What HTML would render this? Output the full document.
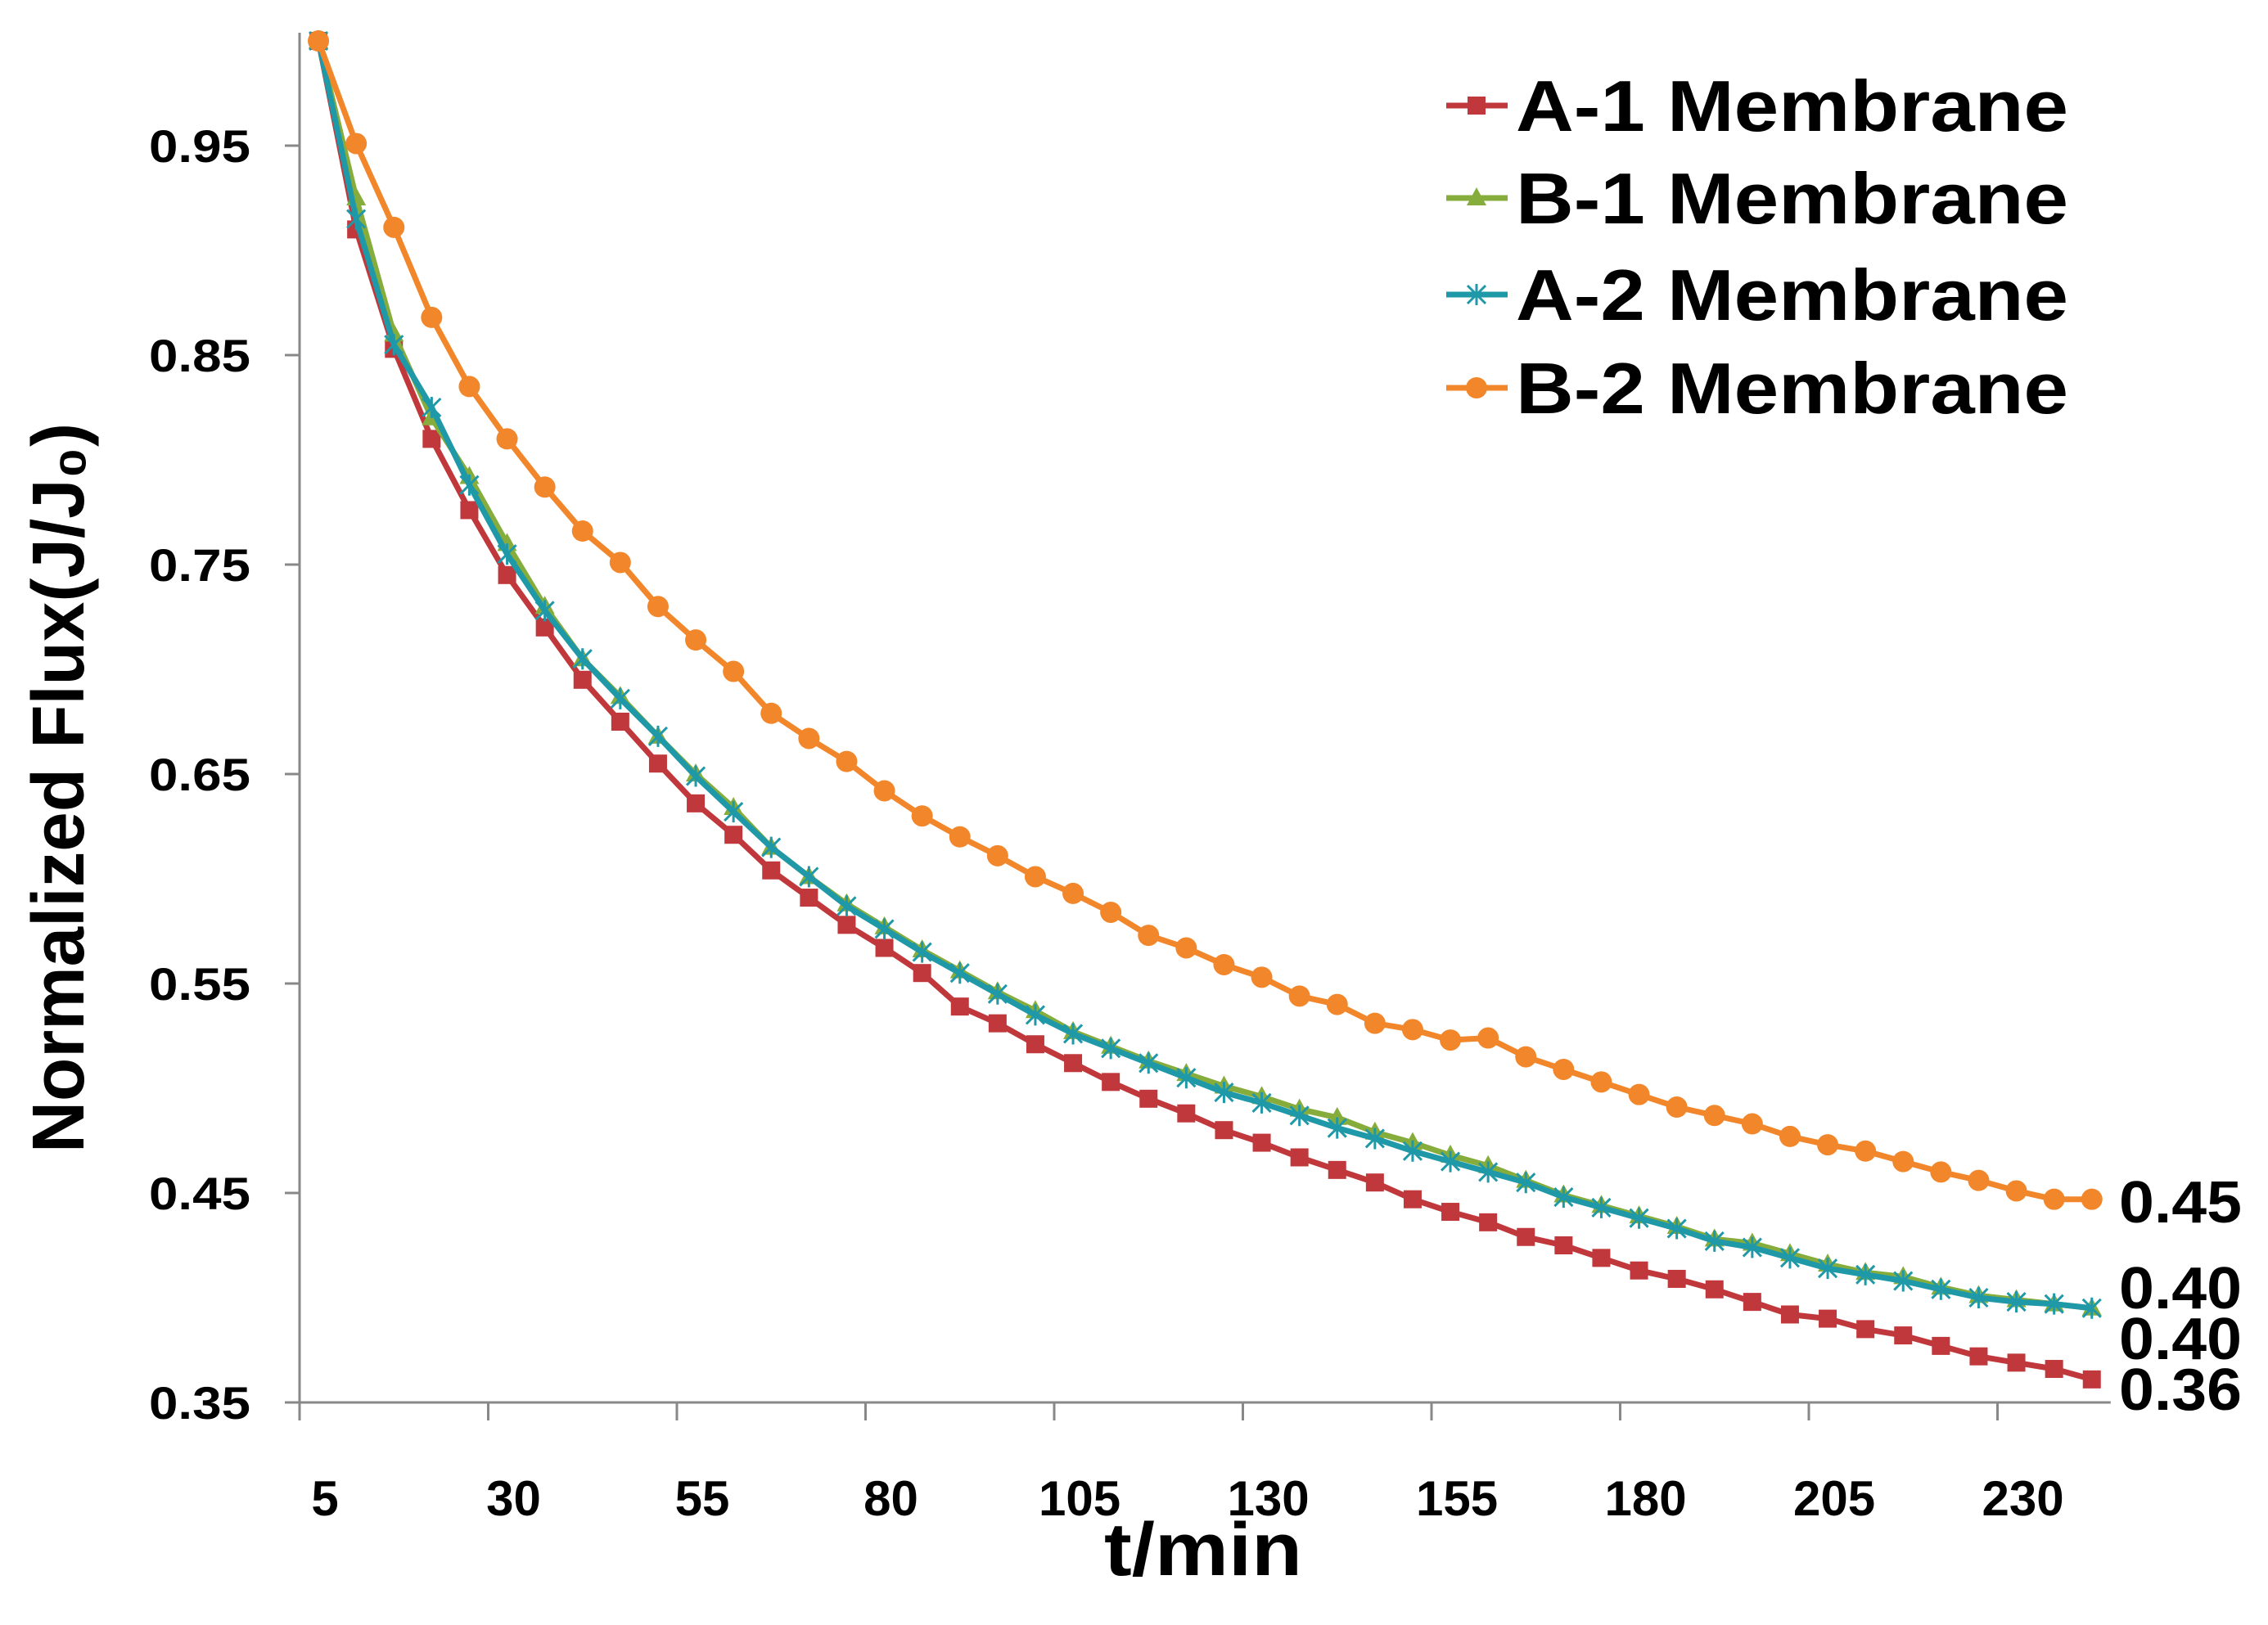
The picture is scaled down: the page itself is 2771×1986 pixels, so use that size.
<!DOCTYPE html>
<html><head><meta charset="utf-8"><style>
html,body{margin:0;padding:0;background:#fff;}
svg{display:block;font-family:"Liberation Sans",sans-serif;font-weight:bold;}
</style></head><body>
<svg id="chart" width="2771" height="1986" viewBox="0 0 2771 1986" xmlns="http://www.w3.org/2000/svg">
<g id="axes"></g>
<g id="series"></g>
<g id="legend"></g>
<text transform="translate(102,963) rotate(-90)" text-anchor="middle" font-size="90" textLength="892" lengthAdjust="spacingAndGlyphs">Normalized Flux(J/J₀)</text>
<text x="1470" y="1925" text-anchor="middle" font-size="92" textLength="242" lengthAdjust="spacingAndGlyphs">t/min</text>
</svg>
<script>
const times = [];
for (let t = 5; t <= 240; t += 5) times.push(t);
const a1 = [1.0,.91,.853,.81,.776,.745,.72,.695,.675,.655,.636,.621,.604,.591,.578,.567,.555,.539,.531,.521,.512,.503,.495,.488,.480,.474,.467,.461,.455,.447,.441,.436,.429,.425,.419,.413,.409,.404,.398,.392,.390,.385,.382,.377,.372,.369,.366,.361];
const b1 = [1.0,.925,.86,.82,.792,.76,.73,.705,.687,.668,.65,.634,.615,.601,.588,.577,.566,.556,.546,.537,.527,.520,.513,.507,.501,.496,.490,.486,.479,.474,.468,.463,.456,.449,.444,.439,.434,.428,.426,.421,.416,.412,.410,.405,.401,.399,.397,.395];
const a2 = [1.0,.915,.855,.825,.788,.755,.728,.705,.686,.668,.649,.632,.615,.601,.587,.576,.565,.555,.545,.535,.526,.519,.512,.505,.498,.493,.487,.481,.476,.470,.465,.460,.455,.448,.443,.438,.433,.427,.424,.419,.414,.411,.408,.404,.400,.398,.397,.395];
const b2 = [1.0,.951,.911,.868,.835,.810,.787,.766,.751,.730,.714,.699,.679,.667,.656,.642,.630,.620,.611,.601,.593,.584,.573,.567,.559,.553,.544,.540,.531,.528,.523,.524,.515,.509,.503,.497,.491,.487,.483,.477,.473,.470,.465,.460,.456,.451,.447,.447];
const yTicks = [0.35,0.45,0.55,0.65,0.75,0.85,0.95];
const yTickLabels = ["0.35","0.45","0.55","0.65","0.75","0.85","0.95"];
const xTickLabels = ["5","30","55","80","105","130","155","180","205","230"];
const endLabels = ["0.45","0.40","0.40","0.36"];
const seriesNames = ["A-1 Membrane","B-1 Membrane","A-2 Membrane","B-2 Membrane"];

const NS = "http://www.w3.org/2000/svg";
const X0 = 366, CW = 46.1, Y0 = 1714, YMIN = 0.35, YPX = 2560;
function xPos(i){ return X0 + CW*(i+0.5); }
function yPos(v){ return Y0 - (v - YMIN)*YPX; }
function mk(tag, attrs, parent){ const e=document.createElementNS(NS,tag); for(const k in attrs) e.setAttribute(k,attrs[k]); parent.appendChild(e); return e; }

const axes = document.getElementById('axes');
const yAxis = mk('line',{x1:X0,y1:40,x2:X0,y2:Y0,stroke:'#888','stroke-width':3},axes);


const xAxis = mk('line',{x1:X0-18,y1:Y0,x2:X0+CW*times.length,y2:Y0,stroke:'#888','stroke-width':3},axes);


yTicks.forEach((v,i)=>{
  const y=yPos(v);
  const tk=mk('line',{x1:X0-18,y1:y,x2:X0,y2:y,stroke:'#888','stroke-width':3},axes);
  
  
  const t=mk('text',{x:306,y:y+20,'text-anchor':'end','font-size':56,textLength:124,lengthAdjust:'spacingAndGlyphs'},axes);
  
  
  t.textContent=yTickLabels[i];
});
for(let k=0;k<=times.length/5;k++){
  const x=X0+k*5*CW;
  if(x>X0+CW*times.length) break;
  const tk=mk('line',{x1:x,y1:Y0,x2:x,y2:Y0+22,stroke:'#888','stroke-width':3},axes);
  
  
}
xTickLabels.forEach((lab,k)=>{
  const t=mk('text',{x:xPos(k*5)+8,y:1852,'text-anchor':'middle','font-size':60},axes);
  
  
  t.textContent=lab;
});

const colors=['#c0383b','#86ac3c','#1f98a8','#f2862a'];
const allData=[a1,b1,a2,b2];
const order=[0,1,2,3];
const sg=document.getElementById('series');
function marker(kind,x,y,c,g){
  let m;
  if(kind===0){ m=mk('rect',{x:x-11,y:y-11,width:22,height:22,fill:c},g); }
  else if(kind===1){ m=mk('polygon',{points:`${x},${y-13} ${x+12},${y+9} ${x-12},${y+9}`,fill:c},g); }
  else if(kind===2){ m=mk('path',{d:`M${x-11},${y-11}L${x+11},${y+11}M${x+11},${y-11}L${x-11},${y+11}M${x},${y-13}L${x},${y+13}`,stroke:c,'stroke-width':3},g); }
  else { m=mk('circle',{cx:x,cy:y,r:13},g); m.setAttribute('fill',c); }
  
  
}
order.forEach(s=>{
  const g=mk('g',{},sg);
  
  
  const d=allData[s].map((v,i)=>(i?'L':'M')+xPos(i).toFixed(1)+','+yPos(v).toFixed(1)).join('');
  const p=mk('path',{d:d,fill:'none',stroke:colors[s],'stroke-width':7,'stroke-linejoin':'round'},g);
  
  
  allData[s].forEach((v,i)=>marker(s,xPos(i),yPos(v),colors[s],g));
});
const endY=[1468,1573,1635,1697];
endLabels.forEach((lab,i)=>{
  const t=mk('text',{x:2589,y:endY[i]+26,'font-size':72,textLength:150,lengthAdjust:'spacingAndGlyphs'},sg);
  
  
  t.textContent=lab;
});
const lg=document.getElementById('legend');
const legY=[129,242,360,474];
seriesNames.forEach((n,i)=>{
  const g=mk('g',{},lg);
  
  
  mk('line',{x1:1767,y1:legY[i],x2:1842,y2:legY[i],stroke:colors[i],'stroke-width':7},g);
  marker(i,1804,legY[i],colors[i],g);
  const t=mk('text',{x:1852,y:legY[i]+31,'font-size':88,textLength:675,lengthAdjust:'spacingAndGlyphs'},g);
  
  
  t.textContent=n;
});
</script>
</body></html>
